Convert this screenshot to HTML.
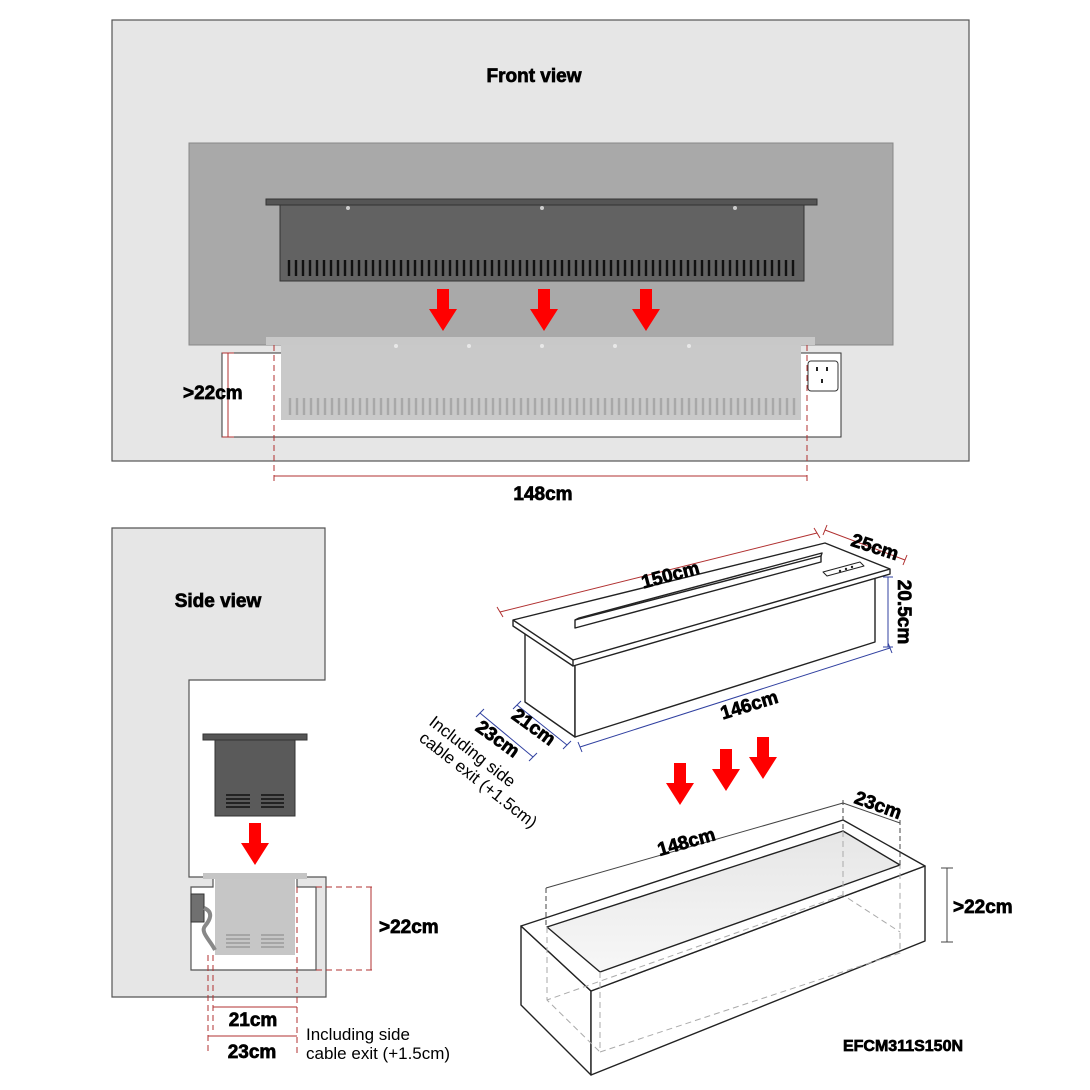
<!DOCTYPE html>
<html><head><meta charset="utf-8"><style>html,body{margin:0;padding:0;background:#fff}svg{display:block}text{font-family:"Liberation Sans",Arial,sans-serif}.b{font-weight:bold;stroke:#000;stroke-width:0.7}</style></head><body>
<svg width="1090" height="1090" viewBox="0 0 1090 1090" xmlns="http://www.w3.org/2000/svg">
<defs>
<g id="arr"><polygon points="-6,0 6,0 6,20 14,20 0,42 -14,20 -6,20" fill="#f00"/></g>
<linearGradient id="g" x1="0" y1="0" x2="0" y2="1"><stop offset="0" stop-color="#e6e6e6"/><stop offset="1" stop-color="#f7f7f7"/></linearGradient>
</defs>
<!-- FRONT VIEW -->
<rect x="112" y="20" width="857" height="441" fill="#e6e6e6" stroke="#555" stroke-width="1.2"/>
<text x="534" y="82" font-size="19" class="b" text-anchor="middle">Front view</text>
<rect x="189" y="143" width="704" height="202" fill="#a9a9a9" stroke="#888"/>
<rect x="266" y="199" width="551" height="6" fill="#555" stroke="#333"/>
<rect x="280" y="205" width="524" height="76" fill="#626262" stroke="#333"/>
<g stroke="#111" stroke-width="2.4">
<path d="M289 260V276M296 260V276M303 260V276M310 260V276M317 260V276M324 260V276M331 260V276M338 260V276M345 260V276M352 260V276M359 260V276M366 260V276M373 260V276M380 260V276M387 260V276M394 260V276M401 260V276M408 260V276M415 260V276M422 260V276M429 260V276M436 260V276M443 260V276M450 260V276M457 260V276M464 260V276M471 260V276M478 260V276M485 260V276M492 260V276M499 260V276M506 260V276M513 260V276M520 260V276M527 260V276M534 260V276M541 260V276M548 260V276M555 260V276M562 260V276M569 260V276M576 260V276M583 260V276M590 260V276M597 260V276M604 260V276M611 260V276M618 260V276M625 260V276M632 260V276M639 260V276M646 260V276M653 260V276M660 260V276M667 260V276M674 260V276M681 260V276M688 260V276M695 260V276M702 260V276M709 260V276M716 260V276M723 260V276M730 260V276M737 260V276M744 260V276M751 260V276M758 260V276M765 260V276M772 260V276M779 260V276M786 260V276M793 260V276"/>
</g>
<g fill="#ccc"><circle cx="348" cy="208" r="2"/><circle cx="542" cy="208" r="2"/><circle cx="735" cy="208" r="2"/></g>
<use href="#arr" x="443" y="289"/><use href="#arr" x="544" y="289"/><use href="#arr" x="646" y="289"/>
<rect x="222" y="353" width="619" height="84" fill="#fff" stroke="#333"/>
<rect x="281" y="345" width="520" height="75" fill="#c9c9c9"/>
<rect x="266" y="337" width="549" height="8" fill="#c8c8c8"/>
<g fill="#e8e8e8"><circle cx="396" cy="346" r="2"/><circle cx="469" cy="346" r="2"/><circle cx="542" cy="346" r="2"/><circle cx="615" cy="346" r="2"/><circle cx="689" cy="346" r="2"/></g>
<g stroke="#a8a8a8" stroke-width="2.4">
<path d="M290 398V415M297 398V415M304 398V415M311 398V415M318 398V415M325 398V415M332 398V415M339 398V415M346 398V415M353 398V415M360 398V415M367 398V415M374 398V415M381 398V415M388 398V415M395 398V415M402 398V415M409 398V415M416 398V415M423 398V415M430 398V415M437 398V415M444 398V415M451 398V415M458 398V415M465 398V415M472 398V415M479 398V415M486 398V415M493 398V415M500 398V415M507 398V415M514 398V415M521 398V415M528 398V415M535 398V415M542 398V415M549 398V415M556 398V415M563 398V415M570 398V415M577 398V415M584 398V415M591 398V415M598 398V415M605 398V415M612 398V415M619 398V415M626 398V415M633 398V415M640 398V415M647 398V415M654 398V415M661 398V415M668 398V415M675 398V415M682 398V415M689 398V415M696 398V415M703 398V415M710 398V415M717 398V415M724 398V415M731 398V415M738 398V415M745 398V415M752 398V415M759 398V415M766 398V415M773 398V415M780 398V415M787 398V415M794 398V415"/>
</g>
<rect x="808" y="361" width="30" height="30" rx="3" fill="#fff" stroke="#333"/>
<g fill="#222"><rect x="816" y="367" width="2" height="4"/><rect x="826" y="367" width="2" height="4"/><rect x="821" y="379" width="2" height="4"/></g>
<g stroke="#b03030" stroke-width="1" fill="none">
<path d="M228 353V437M222 353H234M222 437H234"/>
<path d="M274 345V482M807 345V482" stroke-dasharray="6,4"/>
<path d="M274 476H807"/>
</g>
<text x="183" y="399" font-size="19" class="b">&gt;22cm</text>
<text x="543" y="500" font-size="19" class="b" text-anchor="middle">148cm</text>
<!-- SIDE VIEW -->
<polygon points="112,528 325,528 325,680 189,680 189,877 213,877 213,887 191,887 191,970 316,970 316,887 297,887 297,877 326,877 326,997 112,997" fill="#e6e6e6" stroke="#555" stroke-width="1.2"/>
<text x="218" y="607" font-size="19" class="b" text-anchor="middle">Side view</text>
<rect x="203" y="734" width="104" height="6" fill="#555" stroke="#333"/>
<rect x="215" y="740" width="80" height="76" fill="#5a5a5a" stroke="#333"/>
<g stroke="#111" stroke-width="1.6"><path d="M226 795H250M226 799H250M226 803H250M226 807H250M261 795H284M261 799H284M261 803H284M261 807H284"/></g>
<use href="#arr" x="255" y="823"/>
<rect x="203" y="873" width="104" height="6" fill="#c5c5c5"/>
<rect x="215" y="879" width="80" height="76" fill="#c6c6c6"/>
<g stroke="#9a9a9a" stroke-width="1.4"><path d="M226 935H250M226 939H250M226 943H250M226 947H250M261 935H284M261 939H284M261 943H284M261 947H284"/></g>
<rect x="191" y="894" width="13" height="28" fill="#707070" stroke="#333"/>
<path d="M204 908 C214 912 210 920 205 926 C200 932 210 940 215 950" stroke="#888" stroke-width="4" fill="none"/>
<g stroke="#b03030" stroke-width="1" fill="none">
<path d="M208 955V1052M213 955V1030M297 887V1055M316 887H375M316 970H375" stroke-dasharray="6,4"/>
<path d="M213 1007H297M208 1036H297M371 887V970"/>
</g>
<text x="379" y="933" font-size="19" class="b">&gt;22cm</text>
<text x="253" y="1026" font-size="19" class="b" text-anchor="middle">21cm</text>
<text x="252" y="1058" font-size="19" class="b" text-anchor="middle">23cm</text>
<text x="306" y="1040" font-size="17">Including side</text>
<text x="306" y="1059" font-size="17">cable exit (+1.5cm)</text>
<!-- 3D APPLIANCE -->
<g stroke="#222" stroke-width="1.4" fill="#fff" stroke-linejoin="round">
<polygon points="525,630 575,665 575,737 525,702"/>
<polygon points="575,665 875,577 875,642 575,737"/>
<polygon points="513,620 825,543 890,569 890,574 573,666 513,626"/>
<path d="M513,620 L573,660 L890,569 M573,660 V666" fill="none"/>
<polygon points="575,620 821,556 821,562 575,628"/>
<path d="M575,620 L579,618 L822,553 L821,556" fill="none"/>
<polygon points="823,572 860,562 864,566 827,576" stroke-width="1"/>
</g>
<g fill="#222"><circle cx="840" cy="571" r="1.2"/><circle cx="846" cy="569" r="1.2"/><circle cx="852" cy="567" r="1.2"/></g>
<g stroke="#b03030" stroke-width="1"><path d="M500 612L817 533M497 607L503 617M814 528L820 538M825 530L905 560M823 535L827 525M903 565L907 555"/></g>
<g stroke="#3040a0" stroke-width="1"><path d="M888 577V647M883 577H893M883 647H893M580 747L890 648M578 742L582 752M888 643L892 653M517 705L567 745M513 709L521 701M563 749L571 741M480 713L533 757M476 717L484 709M529 761L537 753"/></g>
<text font-size="19" class="b" transform="translate(672,581) rotate(-15)" text-anchor="middle">150cm</text>
<text font-size="19" class="b" transform="translate(873,553) rotate(18)" text-anchor="middle">25cm</text>
<text font-size="19" class="b" transform="translate(898,612) rotate(90)" text-anchor="middle">20.5cm</text>
<text font-size="19" class="b" transform="translate(751,711) rotate(-17)" text-anchor="middle">146cm</text>
<text font-size="19" class="b" transform="translate(530,732) rotate(36)" text-anchor="middle">21cm</text>
<text font-size="19" class="b" transform="translate(494,744) rotate(36)" text-anchor="middle">23cm</text>
<text font-size="17" transform="translate(428,724) rotate(38)">Including side</text>
<text font-size="17" transform="translate(418,740) rotate(38)">cable exit (+1.5cm)</text>
<use href="#arr" x="680" y="763"/><use href="#arr" x="726" y="749"/><use href="#arr" x="763" y="737"/>
<!-- LOWER BOX -->
<g stroke="#222" stroke-width="1.4" stroke-linejoin="round">
<polygon points="521,926 591,991 591,1075 521,1005" fill="#fff"/>
<polygon points="591,991 925,866 925,941 591,1075" fill="#fff"/>
<polygon points="521,926 843,820 925,866 591,991" fill="#fff"/>
<polygon points="547,927 843,831 900,865 600,972" fill="url(#g)"/>
</g>
<g stroke="#aaa" stroke-width="1" stroke-dasharray="6,4" fill="none">
<path d="M547 927V1000L600 1052M600 972V1052L900 953V865M843 831V895L900 932M843 895L547 1000"/>
</g>
<g stroke="#444" stroke-width="1" fill="none">
<path d="M546 888L843 803M843 803L900 823"/>
<path d="M546 888V927M843 800V831M900 820V865" stroke-dasharray="5,3"/>
<path d="M947 868V942M941 868H953M941 942H953"/>
</g>
<text font-size="19" class="b" transform="translate(688,848) rotate(-16)" text-anchor="middle">148cm</text>
<text font-size="19" class="b" transform="translate(876,811) rotate(20)" text-anchor="middle">23cm</text>
<text x="953" y="913" font-size="19" class="b">&gt;22cm</text>
<text x="903" y="1051" font-size="16" class="b" text-anchor="middle">EFCM311S150N</text>
</svg>
</body></html>
